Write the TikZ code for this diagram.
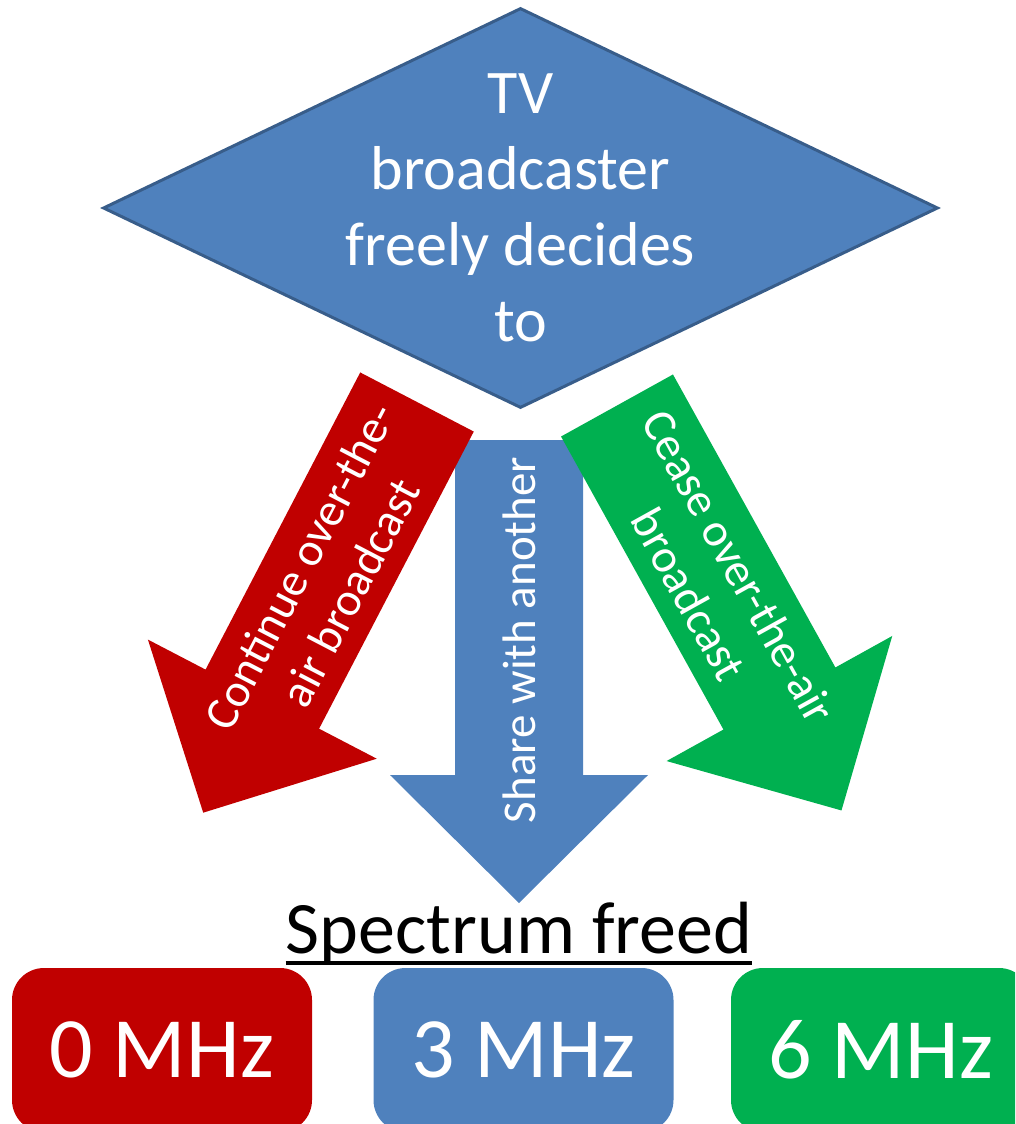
\documentclass[tikz,border=0pt]{standalone}
\usepackage{fontspec}
\setmainfont{Carlito}
\definecolor{tvblue}{RGB}{79, 129, 189}
\definecolor{tvborder}{RGB}{56, 93, 138}
\definecolor{keepred}{RGB}{192, 0, 0}
\definecolor{ceasegreen}{RGB}{0, 176, 80}
\usetikzlibrary{shapes.geometric, positioning, calc}

% block arrow outline, drawn from the middle of its tail, pointing down
\newcommand{\armshape}{(-64,0) -- (64,0) -- (64,335) -- (129,335) -- (0,463) -- (-129,335) -- (-64,335) -- cycle}

\tikzset{
  armtext/.style={text=white, align=center, inner sep=0pt, font=\fontsize{47}{57}\selectfont},
  mhzbox/.style={rounded corners=32pt, minimum width=300pt, minimum height=164pt, inner sep=0pt, text=white, font=\fontsize{86}{100}\selectfont}
}

\begin{document}
\begin{tikzpicture}[x=1pt, y=-1pt]
  \useasboundingbox (0,0) rectangle (1015,1124);
  \clip (0,0) rectangle (1015,1124);

  % Decision
  \node[diamond, draw=tvborder, line width=3pt, fill=tvblue, minimum width=835pt, minimum height=400pt, inner sep=0pt] (decide) at (520.5,208) {};
  \node[text=white, align=center, inner sep=0pt, font=\fontsize{62}{76}\selectfont] (decidetext) at (decide.center) {TV\\broadcaster\\freely decides\\to};

  % Share
  \begin{scope}[shift={(519,440)}]
    \fill[tvblue] \armshape;
    \node[armtext, rotate=90] (share) at (0,200) {Share with another};
  \end{scope}

  % Continue
  \begin{scope}[shift={(417,402)}, rotate=-27.5]
    \fill[keepred] \armshape;
    \node[armtext, rotate=62.5] (keep) at (0,200) {Continue over-the-\\air broadcast};
  \end{scope}

  % Cease
  \begin{scope}[shift={(617,405.5)}, rotate=29]
    \fill[ceasegreen] \armshape;
    \node[armtext, rotate=-61] (cease) at (0,200) {Cease over-the-air\\broadcast};
  \end{scope}

  % Result
  \node[anchor=base, inner sep=0pt, font=\fontsize{74}{90}\selectfont] (freed) at (519,953) {Spectrum freed};
  \draw[line width=3.5pt] ([yshift=-10pt]freed.base west) -- ([yshift=-10pt]freed.base east);

  \node[mhzbox, fill=keepred] (zero) at (162,1050) {0 MHz};
  \node[mhzbox, fill=tvblue] (three) at (523.5,1050) {3 MHz};
  \node[mhzbox, fill=ceasegreen] (six) at (881,1050) {6 MHz};
\end{tikzpicture}
\end{document}
